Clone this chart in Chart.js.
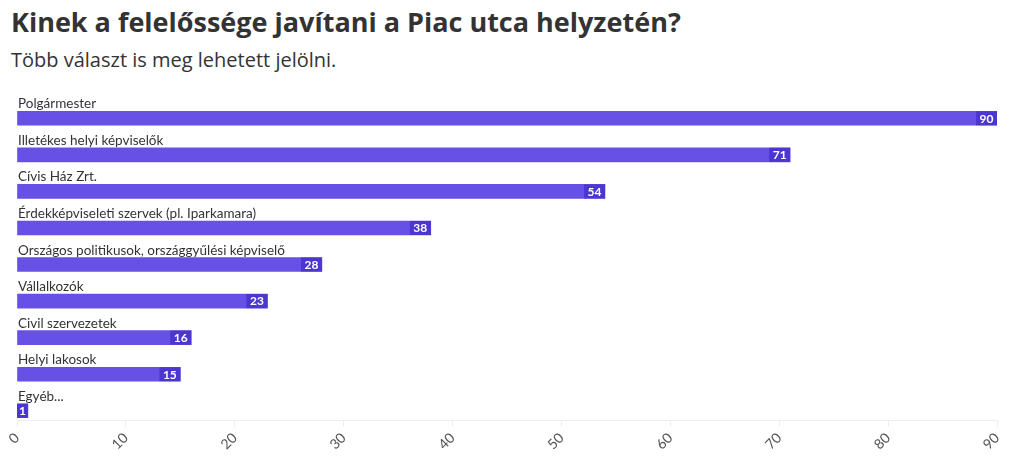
<!DOCTYPE html>
<html>
<head>
<meta charset="utf-8">
<script src="https://cdn.jsdelivr.net/npm/chart.js@4"></script>
<style>
  body { margin: 0; background: #fff; font-family: Lato, sans-serif; color: #333; }
  #wrap { position: relative; width: 1020px; height: 467px; }
  h1 { position: absolute; left: 11px; top: 8px; margin: 0; line-height: 1; font-family: "Open Sans", sans-serif; font-size: 27px; font-weight: 700; color: #333; white-space: nowrap; }
  p { position: absolute; left: 11px; top: 50px; margin: 0; line-height: 1; font-family: "Open Sans", sans-serif; font-size: 20px; color: #333; white-space: nowrap; }
  #box { position: absolute; left: 0; top: 80px; width: 1020px; height: 387px; }
</style>
</head>
<body>
<div id="wrap">
  <h1>Kinek a felelőssége javítani a Piac utca helyzetén?</h1>
  <p>Több választ is meg lehetett jelölni.</p>
  <div id="box"><canvas id="chart"></canvas></div>
</div>
<script>
const categories = [
    "Polgármester",
    "Illetékes helyi képviselők",
    "Cívis Ház Zrt.",
    "Érdekképviseleti szervek (pl. Iparkamara)",
    "Országos politikusok, országgyűlési képviselő",
    "Vállalkozók",
    "Civil szervezetek",
    "Helyi lakosok",
    "Egyéb..."
];
const values = [90, 71, 54, 38, 28, 23, 16, 15, 1];
const xTicks = [0, 10, 20, 30, 40, 50, 60, 70, 80, 90];

const BAR = "#6750e6";
const BOX = "#4c36d0";

// címkék a sávok fölött + értékek a sáv végén
const labelsPlugin = {
    id: "barLabels",
    afterDatasetsDraw(chart) {
        const ctx = chart.ctx;
        const meta = chart.getDatasetMeta(0);
        ctx.save();
        meta.data.forEach((bar, i) => {
            const h = bar.height;
            const top = bar.y - h / 2;
            // kategória
            ctx.font = "13.5px Lato, sans-serif";
            ctx.fillStyle = "#333";
            ctx.textAlign = "left";
            ctx.textBaseline = "alphabetic";
            ctx.fillText(categories[i], chart.chartArea.left + 1, top - 3);
            // érték doboz
            const txt = String(values[i]);
            ctx.font = "bold 12px Lato, sans-serif";
            const w = Math.min(ctx.measureText(txt).width + 7, bar.x - chart.chartArea.left);
            ctx.fillStyle = BOX;
            ctx.fillRect(bar.x - w, top, w, h);
            ctx.fillStyle = "#fff";
            ctx.textAlign = "center";
            ctx.textBaseline = "middle";
            ctx.fillText(txt, bar.x - w / 2, bar.y + 0.5);
        });
        ctx.restore();
    }
};

new Chart(document.getElementById("chart"), {
    type: "bar",
    data: {
        datasets: [{
            data: values.map((v, i) => ({ x: v, y: i })),
            backgroundColor: BAR,
            barThickness: 14
        }]
    },
    options: {
        indexAxis: "y",
        responsive: true,
        maintainAspectRatio: false,
        animation: false,
        layout: { padding: { left: 17, right: 23, top: 20, bottom: 11 } },
        plugins: { legend: { display: false }, tooltip: { enabled: false } },
        scales: {
            x: {
                type: "linear",
                min: 0, max: 90,
                afterBuildTicks: s => { s.ticks = xTicks.map(v => ({ value: v })); },
                ticks: { minRotation: 45, maxRotation: 45, color: "#555", font: { family: "Lato", size: 14 } },
                grid: { drawOnChartArea: false, color: "#eee", tickLength: 6 },
                border: { color: "#eee" }
            },
            y: {
                type: "linear",
                display: false,
                offset: false,
                reverse: true,
                min: -0.5, max: 8.27
            }
        }
    },
    plugins: [labelsPlugin]
});
</script>
</body>
</html>
